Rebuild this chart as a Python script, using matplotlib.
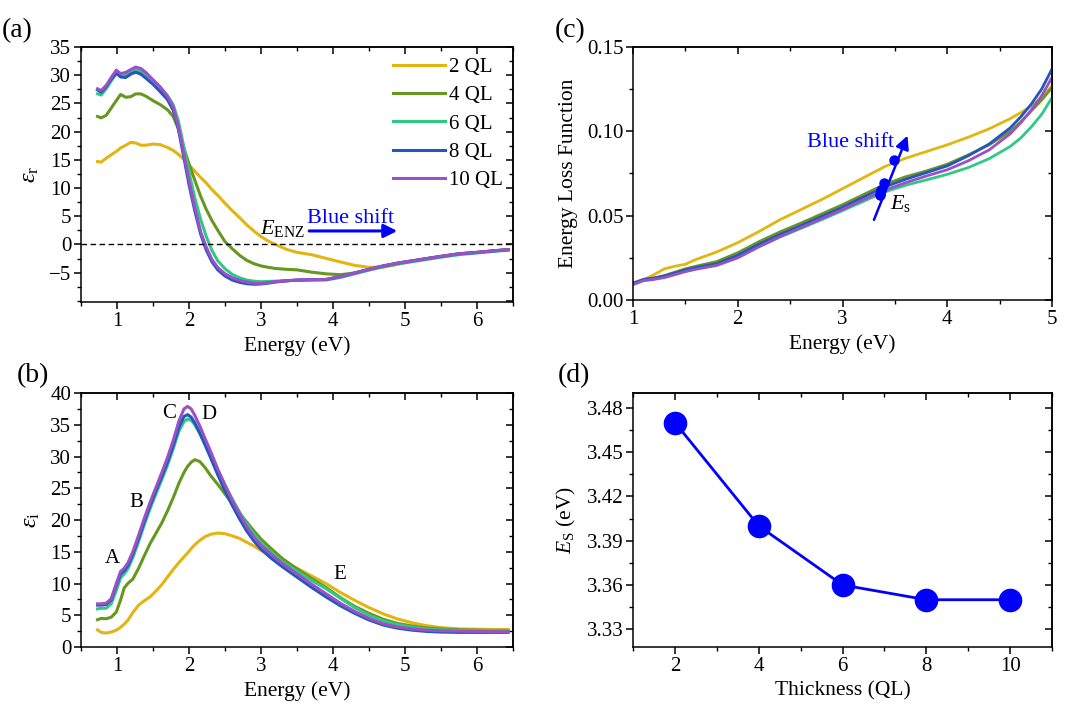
import numpy as np
import matplotlib
matplotlib.use("Agg")
import matplotlib.pyplot as plt
from matplotlib.ticker import MultipleLocator, FormatStrFormatter

plt.rcParams['font.family'] = ['Liberation Serif', 'DejaVu Serif']
plt.rcParams['mathtext.fontset'] = 'custom'
plt.rcParams['mathtext.rm'] = 'Liberation Serif'
plt.rcParams['mathtext.it'] = 'Liberation Serif:italic'
plt.rcParams['axes.linewidth'] = 1.1

labels = ['2 QL', '4 QL', '6 QL', '8 QL', '10 QL']
colors = ['#E2B511', '#66971F', '#2FC985', '#2456BD', '#9A50C6']

# (a) real part of permittivity
energy_a = [0.73, 0.78, 0.85, 0.92, 0.99, 1.05, 1.12, 1.19, 1.26, 1.33, 1.40, 1.50,
            1.60, 1.70, 1.78, 1.85, 1.92, 2.00, 2.08, 2.16, 2.24, 2.32, 2.40, 2.50,
            2.60, 2.70, 2.80, 2.90, 3.00, 3.10, 3.20, 3.35, 3.50, 3.70, 3.90, 4.10,
            4.30, 4.50, 4.70, 4.90, 5.10, 5.30, 5.50, 5.75, 6.00, 6.25, 6.43]
er_2 = [14.7, 14.6, 15.3, 15.9, 16.5, 17.1, 17.6, 18.1, 18.0, 17.6, 17.6, 17.8,
        17.7, 17.2, 16.7, 16.0, 15.2, 14.1, 13.0, 11.9, 10.9, 9.7, 8.7, 7.3,
        6.0, 4.8, 3.5, 2.4, 1.4, 0.6, 0.0, -0.85, -1.4, -1.8, -2.45, -3.1,
        -3.7, -4.05, -4.0, -3.5, -2.95, -2.55, -2.15, -1.7, -1.4, -1.12, -0.95]
er_4 = [22.7, 22.45, 22.9, 24.2, 25.5, 26.6, 26.1, 26.2, 26.7, 26.7, 26.3, 25.5,
        24.8, 23.9, 22.7, 20.6, 17.4, 14.3, 11.4, 8.6, 6.2, 4.2, 2.5, 0.5,
        -0.75, -1.9, -2.8, -3.4, -3.8, -4.05, -4.25, -4.4, -4.5, -4.9, -5.2, -5.35,
        -5.05, -4.4, -3.8, -3.3, -2.9, -2.5, -2.1, -1.65, -1.4, -1.1, -0.92]
er_6 = [26.7, 26.5, 27.6, 29.0, 30.3, 29.9, 30.0, 30.6, 31.0, 30.7, 30.1, 29.1,
        27.9, 26.4, 24.8, 22.0, 17.8, 12.8, 8.3, 4.5, 1.4, -1.1, -2.9, -4.3,
        -5.3, -5.9, -6.3, -6.5, -6.6, -6.55, -6.5, -6.4, -6.35, -6.3, -6.3, -5.85,
        -5.2, -4.55, -3.95, -3.45, -3.05, -2.65, -2.25, -1.8, -1.5, -1.2, -1.0]
er_8 = [27.4, 27.0, 28.0, 29.3, 30.4, 29.7, 29.6, 30.2, 30.55, 30.2, 29.5, 28.4,
        27.1, 25.7, 23.8, 20.6, 16.0, 10.6, 6.0, 1.9, -1.0, -3.1, -4.5, -5.6,
        -6.3, -6.7, -6.95, -7.05, -7.0, -6.85, -6.65, -6.45, -6.3, -6.25, -6.2, -5.7,
        -5.05, -4.4, -3.8, -3.3, -2.9, -2.5, -2.1, -1.65, -1.4, -1.1, -0.92]
er_10 = [27.6, 27.3, 28.2, 29.6, 30.9, 30.3, 30.5, 31.0, 31.45, 31.2, 30.5, 29.2,
         27.9, 26.3, 24.4, 21.0, 16.6, 11.3, 6.6, 2.3, -0.5, -2.7, -4.1, -5.2,
         -5.9, -6.35, -6.65, -6.85, -6.9, -6.75, -6.6, -6.45, -6.3, -6.25, -6.2, -5.7,
         -5.05, -4.4, -3.8, -3.3, -2.9, -2.5, -2.1, -1.65, -1.4, -1.1, -0.92]

# (b) imaginary part of permittivity
energy_b = [0.73, 0.78, 0.85, 0.92, 0.99, 1.05, 1.10, 1.15, 1.22, 1.30, 1.38, 1.46,
            1.54, 1.62, 1.70, 1.78, 1.86, 1.93, 1.98, 2.03, 2.08, 2.15, 2.22, 2.30,
            2.40, 2.50, 2.60, 2.70, 2.80, 2.90, 3.00, 3.15, 3.30, 3.50, 3.70, 3.90,
            4.10, 4.30, 4.50, 4.70, 4.90, 5.10, 5.30, 5.50, 5.75, 6.00, 6.25, 6.43]
ei_2 = [2.7, 2.3, 2.2, 2.35, 2.65, 3.1, 3.6, 4.2, 5.4, 6.6, 7.3, 7.9,
        8.8, 9.8, 11.0, 12.2, 13.3, 14.2, 14.8, 15.5, 16.1, 16.8, 17.35, 17.75,
        17.95, 17.85, 17.5, 17.1, 16.5, 15.9, 15.2, 14.2, 13.4, 12.4, 11.2, 10.0,
        8.6, 7.35, 6.2, 5.2, 4.4, 3.8, 3.35, 3.05, 2.85, 2.8, 2.75, 2.75]
ei_4 = [4.3, 4.5, 4.45, 4.7, 5.5, 7.4, 9.3, 10.0, 10.7, 12.4, 14.4, 16.3,
        17.9, 19.5, 21.4, 23.5, 25.8, 27.5, 28.45, 29.1, 29.5, 29.2, 28.3, 27.0,
        25.6, 24.1, 22.6, 21.1, 19.7, 18.3, 17.0, 15.4, 13.9, 12.3, 10.8, 9.4,
        7.8, 6.4, 5.3, 4.35, 3.7, 3.3, 3.0, 2.85, 2.7, 2.65, 2.6, 2.6]
ei_6 = [6.0, 6.1, 6.1, 6.8, 8.9, 10.9, 11.5, 12.3, 14.1, 16.6, 19.3, 21.8,
        24.1, 26.3, 28.6, 31.2, 34.0, 35.5, 35.9, 35.7, 35.0, 33.6, 32.0, 30.2,
        27.8, 25.5, 23.3, 21.3, 19.4, 17.8, 16.4, 14.8, 13.4, 11.9, 10.5, 9.2,
        7.7, 6.2, 5.0, 4.1, 3.5, 3.1, 2.85, 2.7, 2.6, 2.6, 2.6, 2.6]
ei_8 = [6.6, 6.6, 6.7, 7.4, 9.7, 11.5, 12.0, 12.8, 14.6, 17.1, 19.8, 22.3,
        24.6, 26.8, 29.1, 31.7, 34.6, 36.3, 36.6, 36.2, 35.3, 33.7, 31.9, 29.8,
        27.1, 24.6, 22.3, 20.2, 18.3, 16.7, 15.4, 13.9, 12.6, 11.0, 9.4, 7.9,
        6.5, 5.3, 4.25, 3.45, 2.95, 2.65, 2.45, 2.35, 2.3, 2.3, 2.3, 2.3]
ei_10 = [6.8, 6.8, 6.9, 7.6, 10.0, 11.9, 12.4, 13.2, 15.0, 17.6, 20.3, 22.8,
         25.1, 27.4, 29.8, 32.5, 35.6, 37.5, 37.9, 37.5, 36.5, 34.8, 32.9, 30.8,
         28.0, 25.5, 23.1, 21.0, 19.0, 17.3, 16.0, 14.5, 13.1, 11.5, 9.9, 8.4,
         6.9, 5.6, 4.5, 3.65, 3.15, 2.85, 2.65, 2.55, 2.5, 2.45, 2.4, 2.4]

# (c) energy loss function
energy_c = [1.0, 1.1, 1.2, 1.3, 1.4, 1.5, 1.6, 1.8, 2.0, 2.2, 2.4, 2.6, 2.8,
            3.0, 3.2, 3.4, 3.6, 3.8, 4.0, 4.2, 4.4, 4.6, 4.7, 4.8, 4.9, 5.0]
elf_2 = [0.0100, 0.0120, 0.0150, 0.0185, 0.0200, 0.0212, 0.0240, 0.0285, 0.0340,
         0.0405, 0.0475, 0.0535, 0.0595, 0.0660, 0.0725, 0.0790, 0.0840, 0.0880,
         0.0920, 0.0965, 0.1015, 0.1075, 0.1110, 0.1150, 0.1200, 0.1270]
elf_4 = [0.0095, 0.0120, 0.0130, 0.0145, 0.0165, 0.0185, 0.0200, 0.0228, 0.0280,
         0.0345, 0.0403, 0.0455, 0.0510, 0.0565, 0.0625, 0.0685, 0.0730, 0.0765,
         0.0805, 0.0860, 0.0920, 0.1000, 0.1055, 0.1120, 0.1185, 0.1260]
elf_6 = [0.0090, 0.0115, 0.0124, 0.0136, 0.0153, 0.0171, 0.0185, 0.0208, 0.0252,
         0.0315, 0.0372, 0.0424, 0.0476, 0.0530, 0.0585, 0.0640, 0.0680, 0.0712,
         0.0745, 0.0785, 0.0838, 0.0910, 0.0960, 0.1025, 0.1100, 0.1200]
elf_8 = [0.0100, 0.0122, 0.0130, 0.0142, 0.0160, 0.0178, 0.0192, 0.0215, 0.0265,
         0.0330, 0.0388, 0.0440, 0.0495, 0.0550, 0.0610, 0.0670, 0.0715, 0.0755,
         0.0795, 0.0855, 0.0925, 0.1020, 0.1085, 0.1160, 0.1250, 0.1370]
elf_10 = [0.0093, 0.0115, 0.0122, 0.0133, 0.0150, 0.0168, 0.0182, 0.0205, 0.0250,
          0.0315, 0.0375, 0.0428, 0.0482, 0.0537, 0.0595, 0.0650, 0.0695, 0.0735,
          0.0772, 0.0825, 0.0890, 0.0985, 0.1050, 0.1125, 0.1210, 0.1320]
es_dot_x = [3.49, 3.40, 3.37, 3.36, 3.36]
es_dot_y = [0.083, 0.0695, 0.065, 0.063, 0.062]

# (d) surface plasmon energy vs thickness
thickness = [2, 4, 6, 8, 10]
es_values = [3.47, 3.40, 3.36, 3.35, 3.35]

fig = plt.figure(figsize=(10.67, 7.12), dpi=100)
ax_a = fig.add_axes([0.0759, 0.5758, 0.405, 0.3581])
ax_b = fig.add_axes([0.0759, 0.0913, 0.405, 0.3567])
ax_c = fig.add_axes([0.5933, 0.5787, 0.3927, 0.3553])
ax_d = fig.add_axes([0.5933, 0.0913, 0.3927, 0.3567])

TICK = 15
LAB = 15.5


def style(ax, xmaj, xmin, ymaj, ymin):
    ax.xaxis.set_major_locator(MultipleLocator(xmaj))
    ax.xaxis.set_minor_locator(MultipleLocator(xmin))
    ax.yaxis.set_major_locator(MultipleLocator(ymaj))
    ax.yaxis.set_minor_locator(MultipleLocator(ymin))
    ax.tick_params(which='major', direction='out', length=5, width=1.1, labelsize=TICK, pad=2)
    ax.tick_params(which='minor', direction='out', length=3, width=1.0)
    top = ax.secondary_xaxis('top')
    top.xaxis.set_major_locator(MultipleLocator(xmaj))
    top.xaxis.set_minor_locator(MultipleLocator(xmin))
    top.tick_params(which='major', direction='in', length=5, width=1.1, labeltop=False)
    top.tick_params(which='minor', direction='in', length=3, width=1.0)
    right = ax.secondary_yaxis('right')
    right.yaxis.set_major_locator(MultipleLocator(ymaj))
    right.yaxis.set_minor_locator(MultipleLocator(ymin))
    right.tick_params(which='major', direction='in', length=5, width=1.1, labelright=False)
    right.tick_params(which='minor', direction='in', length=3, width=1.0)


# panel (a)
for vals, lab, col in zip([er_2, er_4, er_6, er_8, er_10], labels, colors):
    ax_a.plot(energy_a, vals, color=col, lw=2.2, label=lab)
ax_a.axhline(0, color='black', ls='--', lw=1.0, dashes=(4, 2.5))
ax_a.set_xlim(0.5, 6.5)
ax_a.set_ylim(-10.2, 35)
style(ax_a, 1, 0.5, 5, 2.5)
ax_a.set_yticks(np.arange(-5, 36, 5))
ax_a.set_xlabel('Energy (eV)', fontsize=LAB, labelpad=4)
ax_a.set_ylabel(r'$\varepsilon_{\mathrm{r}}$', fontsize=LAB + 2, labelpad=6)
ax_a.legend(loc='upper right', frameon=False, fontsize=15, handlelength=2.5,
            labelspacing=0.42, handletextpad=0.2, borderaxespad=0.1)
ax_a.text(2.99, 1.9, r'$E_{\mathrm{ENZ}}$', fontsize=16, va='baseline')
ax_a.text(3.64, 3.8, 'Blue shift', fontsize=16, color='blue', va='baseline')
ax_a.annotate('', xy=(4.93, 2.4), xytext=(3.63, 2.4),
              arrowprops=dict(arrowstyle='-|>', color='blue', lw=2.2, mutation_scale=20))

# panel (b)
for vals, lab, col in zip([ei_2, ei_4, ei_6, ei_8, ei_10], labels, colors):
    ax_b.plot(energy_b, vals, color=col, lw=2.2, label=lab)
ax_b.set_xlim(0.5, 6.5)
ax_b.set_ylim(0, 40)
style(ax_b, 1, 0.5, 5, 2.5)
ax_b.set_xlabel('Energy (eV)', fontsize=LAB, labelpad=4)
ax_b.set_ylabel(r'$\varepsilon_{\mathrm{i}}$', fontsize=LAB + 2, labelpad=6)
for txt, x, y in [('A', 0.93, 13.9), ('B', 1.265, 22.8), ('C', 1.72, 36.7),
                  ('D', 2.28, 36.6), ('E', 4.09, 11.4)]:
    ax_b.text(x, y, txt, fontsize=15, ha='center', va='center')

# panel (c)
for vals, lab, col in zip([elf_2, elf_4, elf_6, elf_8, elf_10], labels, colors):
    ax_c.plot(energy_c, vals, color=col, lw=2.0, label=lab)
ax_c.set_xlim(1, 5)
ax_c.set_ylim(0, 0.15)
style(ax_c, 1, 0.5, 0.05, 0.025)
ax_c.yaxis.set_major_formatter(FormatStrFormatter('%.2f'))
ax_c.set_xlabel('Energy (eV)', fontsize=LAB, labelpad=4)
ax_c.set_ylabel('Energy Loss Function', fontsize=LAB, labelpad=6)
ax_c.annotate('', xy=(3.63, 0.099), xytext=(3.29, 0.046),
              arrowprops=dict(arrowstyle='-|>', color='blue', lw=1.8, mutation_scale=20))
ax_c.plot(es_dot_x, es_dot_y, 'o', color='blue', ms=6.5)
ax_c.text(2.66, 0.0909, 'Blue shift', fontsize=16, color='blue', va='baseline')
ax_c.text(3.45, 0.054, r'$E_{\mathrm{s}}$', fontsize=16, va='baseline')

# panel (d)
ax_d.plot(thickness, es_values, '-o', color='blue', lw=2.0, ms=16)
ax_d.set_xlim(1, 11)
ax_d.set_ylim(3.318, 3.49)
style(ax_d, 2, 1, 0.03, 0.015)
ax_d.set_yticks([3.33, 3.36, 3.39, 3.42, 3.45, 3.48])
ax_d.yaxis.set_major_formatter(FormatStrFormatter('%.2f'))
ax_d.set_xlabel('Thickness (QL)', fontsize=LAB, labelpad=4)
ax_d.set_ylabel(r'$E_{\mathrm{S}}$ (eV)', fontsize=LAB, labelpad=6)

for lab, x, y in [('(a)', 0.002, 0.975), ('(b)', 0.016, 0.49), ('(c)', 0.52, 0.975), ('(d)', 0.523, 0.49)]:
    fig.text(x, y, lab, fontsize=20, va='top')

fig.savefig('out.png', dpi=100)
